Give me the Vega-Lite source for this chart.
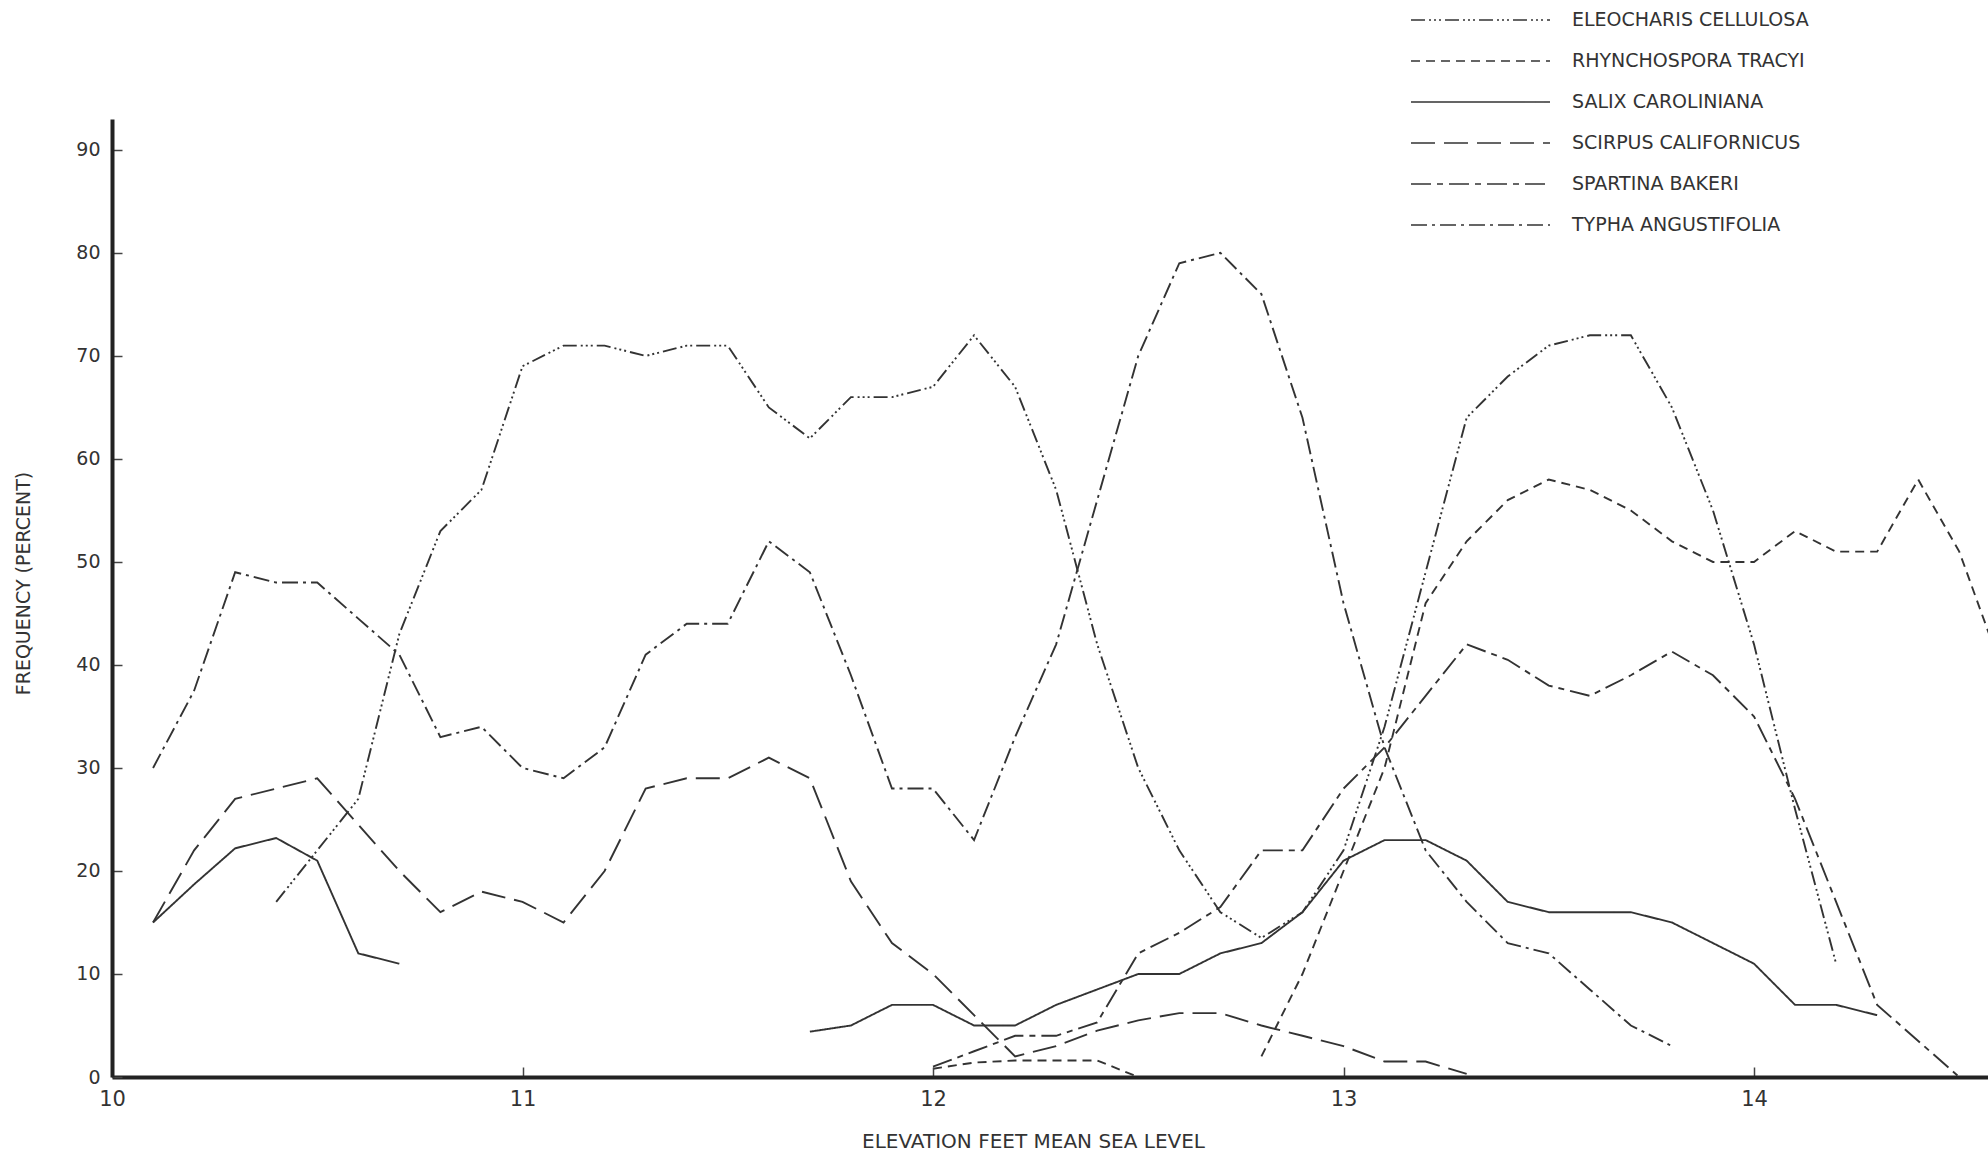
{
  "$schema": "https://vega.github.io/schema/vega-lite/v6.json",
  "width": 1876,
  "height": 958,
  "autosize": {"type": "none"},
  "padding": {"left": 112, "top": 119, "right": 0, "bottom": 80},
  "background": "white",
  "config": {"view": {"stroke": null}, "font": "DejaVu Sans"},
  "data": {"values": [
    {"species":"ELEOCHARIS CELLULOSA","part":"e","elev":10.4,"freq":17},
    {"species":"ELEOCHARIS CELLULOSA","part":"e","elev":10.5,"freq":22},
    {"species":"ELEOCHARIS CELLULOSA","part":"e","elev":10.6,"freq":27},
    {"species":"ELEOCHARIS CELLULOSA","part":"e","elev":10.7,"freq":43},
    {"species":"ELEOCHARIS CELLULOSA","part":"e","elev":10.8,"freq":53},
    {"species":"ELEOCHARIS CELLULOSA","part":"e","elev":10.9,"freq":57},
    {"species":"ELEOCHARIS CELLULOSA","part":"e","elev":11.0,"freq":69},
    {"species":"ELEOCHARIS CELLULOSA","part":"e","elev":11.1,"freq":71},
    {"species":"ELEOCHARIS CELLULOSA","part":"e","elev":11.2,"freq":71},
    {"species":"ELEOCHARIS CELLULOSA","part":"e","elev":11.3,"freq":70},
    {"species":"ELEOCHARIS CELLULOSA","part":"e","elev":11.4,"freq":71},
    {"species":"ELEOCHARIS CELLULOSA","part":"e","elev":11.5,"freq":71},
    {"species":"ELEOCHARIS CELLULOSA","part":"e","elev":11.6,"freq":65},
    {"species":"ELEOCHARIS CELLULOSA","part":"e","elev":11.7,"freq":62},
    {"species":"ELEOCHARIS CELLULOSA","part":"e","elev":11.8,"freq":66},
    {"species":"ELEOCHARIS CELLULOSA","part":"e","elev":11.9,"freq":66},
    {"species":"ELEOCHARIS CELLULOSA","part":"e","elev":12.0,"freq":67},
    {"species":"ELEOCHARIS CELLULOSA","part":"e","elev":12.1,"freq":72},
    {"species":"ELEOCHARIS CELLULOSA","part":"e","elev":12.2,"freq":67},
    {"species":"ELEOCHARIS CELLULOSA","part":"e","elev":12.3,"freq":57},
    {"species":"ELEOCHARIS CELLULOSA","part":"e","elev":12.4,"freq":42},
    {"species":"ELEOCHARIS CELLULOSA","part":"e","elev":12.5,"freq":30},
    {"species":"ELEOCHARIS CELLULOSA","part":"e","elev":12.6,"freq":22},
    {"species":"ELEOCHARIS CELLULOSA","part":"e","elev":12.7,"freq":16},
    {"species":"ELEOCHARIS CELLULOSA","part":"e","elev":12.8,"freq":13.5},
    {"species":"ELEOCHARIS CELLULOSA","part":"e","elev":12.9,"freq":16},
    {"species":"ELEOCHARIS CELLULOSA","part":"e","elev":13.0,"freq":22},
    {"species":"ELEOCHARIS CELLULOSA","part":"e","elev":13.1,"freq":34},
    {"species":"ELEOCHARIS CELLULOSA","part":"e","elev":13.2,"freq":49},
    {"species":"ELEOCHARIS CELLULOSA","part":"e","elev":13.3,"freq":64},
    {"species":"ELEOCHARIS CELLULOSA","part":"e","elev":13.4,"freq":68},
    {"species":"ELEOCHARIS CELLULOSA","part":"e","elev":13.5,"freq":71},
    {"species":"ELEOCHARIS CELLULOSA","part":"e","elev":13.6,"freq":72},
    {"species":"ELEOCHARIS CELLULOSA","part":"e","elev":13.7,"freq":72},
    {"species":"ELEOCHARIS CELLULOSA","part":"e","elev":13.8,"freq":65},
    {"species":"ELEOCHARIS CELLULOSA","part":"e","elev":13.9,"freq":55},
    {"species":"ELEOCHARIS CELLULOSA","part":"e","elev":14.0,"freq":42},
    {"species":"ELEOCHARIS CELLULOSA","part":"e","elev":14.1,"freq":26},
    {"species":"ELEOCHARIS CELLULOSA","part":"e","elev":14.2,"freq":11},

    {"species":"TYPHA ANGUSTIFOLIA","part":"t","elev":10.1,"freq":30},
    {"species":"TYPHA ANGUSTIFOLIA","part":"t","elev":10.2,"freq":37.5},
    {"species":"TYPHA ANGUSTIFOLIA","part":"t","elev":10.3,"freq":49},
    {"species":"TYPHA ANGUSTIFOLIA","part":"t","elev":10.4,"freq":48},
    {"species":"TYPHA ANGUSTIFOLIA","part":"t","elev":10.5,"freq":48},
    {"species":"TYPHA ANGUSTIFOLIA","part":"t","elev":10.6,"freq":44.5},
    {"species":"TYPHA ANGUSTIFOLIA","part":"t","elev":10.7,"freq":41},
    {"species":"TYPHA ANGUSTIFOLIA","part":"t","elev":10.8,"freq":33},
    {"species":"TYPHA ANGUSTIFOLIA","part":"t","elev":10.9,"freq":34},
    {"species":"TYPHA ANGUSTIFOLIA","part":"t","elev":11.0,"freq":30},
    {"species":"TYPHA ANGUSTIFOLIA","part":"t","elev":11.1,"freq":29},
    {"species":"TYPHA ANGUSTIFOLIA","part":"t","elev":11.2,"freq":32},
    {"species":"TYPHA ANGUSTIFOLIA","part":"t","elev":11.3,"freq":41},
    {"species":"TYPHA ANGUSTIFOLIA","part":"t","elev":11.4,"freq":44},
    {"species":"TYPHA ANGUSTIFOLIA","part":"t","elev":11.5,"freq":44},
    {"species":"TYPHA ANGUSTIFOLIA","part":"t","elev":11.6,"freq":52},
    {"species":"TYPHA ANGUSTIFOLIA","part":"t","elev":11.7,"freq":49},
    {"species":"TYPHA ANGUSTIFOLIA","part":"t","elev":11.8,"freq":39},
    {"species":"TYPHA ANGUSTIFOLIA","part":"t","elev":11.9,"freq":28},
    {"species":"TYPHA ANGUSTIFOLIA","part":"t","elev":12.0,"freq":28},
    {"species":"TYPHA ANGUSTIFOLIA","part":"t","elev":12.1,"freq":23},
    {"species":"TYPHA ANGUSTIFOLIA","part":"t","elev":12.2,"freq":33},
    {"species":"TYPHA ANGUSTIFOLIA","part":"t","elev":12.3,"freq":42},
    {"species":"TYPHA ANGUSTIFOLIA","part":"t","elev":12.4,"freq":56},
    {"species":"TYPHA ANGUSTIFOLIA","part":"t","elev":12.5,"freq":70},
    {"species":"TYPHA ANGUSTIFOLIA","part":"t","elev":12.6,"freq":79},
    {"species":"TYPHA ANGUSTIFOLIA","part":"t","elev":12.7,"freq":80},
    {"species":"TYPHA ANGUSTIFOLIA","part":"t","elev":12.8,"freq":76},
    {"species":"TYPHA ANGUSTIFOLIA","part":"t","elev":12.9,"freq":64},
    {"species":"TYPHA ANGUSTIFOLIA","part":"t","elev":13.0,"freq":46},
    {"species":"TYPHA ANGUSTIFOLIA","part":"t","elev":13.1,"freq":32},
    {"species":"TYPHA ANGUSTIFOLIA","part":"t","elev":13.2,"freq":22},
    {"species":"TYPHA ANGUSTIFOLIA","part":"t","elev":13.3,"freq":17},
    {"species":"TYPHA ANGUSTIFOLIA","part":"t","elev":13.4,"freq":13},
    {"species":"TYPHA ANGUSTIFOLIA","part":"t","elev":13.5,"freq":12},
    {"species":"TYPHA ANGUSTIFOLIA","part":"t","elev":13.6,"freq":8.5},
    {"species":"TYPHA ANGUSTIFOLIA","part":"t","elev":13.7,"freq":5},
    {"species":"TYPHA ANGUSTIFOLIA","part":"t","elev":13.8,"freq":3},

    {"species":"SALIX CAROLINIANA","part":"s1","elev":10.1,"freq":15},
    {"species":"SALIX CAROLINIANA","part":"s1","elev":10.2,"freq":18.7},
    {"species":"SALIX CAROLINIANA","part":"s1","elev":10.3,"freq":22.2},
    {"species":"SALIX CAROLINIANA","part":"s1","elev":10.4,"freq":23.2},
    {"species":"SALIX CAROLINIANA","part":"s1","elev":10.5,"freq":21},
    {"species":"SALIX CAROLINIANA","part":"s1","elev":10.6,"freq":12},
    {"species":"SALIX CAROLINIANA","part":"s1","elev":10.7,"freq":11},
    {"species":"SALIX CAROLINIANA","part":"s2","elev":11.7,"freq":4.4},
    {"species":"SALIX CAROLINIANA","part":"s2","elev":11.8,"freq":5},
    {"species":"SALIX CAROLINIANA","part":"s2","elev":11.9,"freq":7},
    {"species":"SALIX CAROLINIANA","part":"s2","elev":12.0,"freq":7},
    {"species":"SALIX CAROLINIANA","part":"s2","elev":12.1,"freq":5},
    {"species":"SALIX CAROLINIANA","part":"s2","elev":12.2,"freq":5},
    {"species":"SALIX CAROLINIANA","part":"s2","elev":12.3,"freq":7},
    {"species":"SALIX CAROLINIANA","part":"s2","elev":12.4,"freq":8.5},
    {"species":"SALIX CAROLINIANA","part":"s2","elev":12.5,"freq":10},
    {"species":"SALIX CAROLINIANA","part":"s2","elev":12.6,"freq":10},
    {"species":"SALIX CAROLINIANA","part":"s2","elev":12.7,"freq":12},
    {"species":"SALIX CAROLINIANA","part":"s2","elev":12.8,"freq":13},
    {"species":"SALIX CAROLINIANA","part":"s2","elev":12.9,"freq":16},
    {"species":"SALIX CAROLINIANA","part":"s2","elev":13.0,"freq":21},
    {"species":"SALIX CAROLINIANA","part":"s2","elev":13.1,"freq":23},
    {"species":"SALIX CAROLINIANA","part":"s2","elev":13.2,"freq":23},
    {"species":"SALIX CAROLINIANA","part":"s2","elev":13.3,"freq":21},
    {"species":"SALIX CAROLINIANA","part":"s2","elev":13.4,"freq":17},
    {"species":"SALIX CAROLINIANA","part":"s2","elev":13.5,"freq":16},
    {"species":"SALIX CAROLINIANA","part":"s2","elev":13.6,"freq":16},
    {"species":"SALIX CAROLINIANA","part":"s2","elev":13.7,"freq":16},
    {"species":"SALIX CAROLINIANA","part":"s2","elev":13.8,"freq":15},
    {"species":"SALIX CAROLINIANA","part":"s2","elev":13.9,"freq":13},
    {"species":"SALIX CAROLINIANA","part":"s2","elev":14.0,"freq":11},
    {"species":"SALIX CAROLINIANA","part":"s2","elev":14.1,"freq":7},
    {"species":"SALIX CAROLINIANA","part":"s2","elev":14.2,"freq":7},
    {"species":"SALIX CAROLINIANA","part":"s2","elev":14.3,"freq":6},

    {"species":"SCIRPUS CALIFORNICUS","part":"c","elev":10.1,"freq":15},
    {"species":"SCIRPUS CALIFORNICUS","part":"c","elev":10.2,"freq":22},
    {"species":"SCIRPUS CALIFORNICUS","part":"c","elev":10.3,"freq":27},
    {"species":"SCIRPUS CALIFORNICUS","part":"c","elev":10.4,"freq":28},
    {"species":"SCIRPUS CALIFORNICUS","part":"c","elev":10.5,"freq":29},
    {"species":"SCIRPUS CALIFORNICUS","part":"c","elev":10.6,"freq":24.5},
    {"species":"SCIRPUS CALIFORNICUS","part":"c","elev":10.7,"freq":20},
    {"species":"SCIRPUS CALIFORNICUS","part":"c","elev":10.8,"freq":16},
    {"species":"SCIRPUS CALIFORNICUS","part":"c","elev":10.9,"freq":18},
    {"species":"SCIRPUS CALIFORNICUS","part":"c","elev":11.0,"freq":17},
    {"species":"SCIRPUS CALIFORNICUS","part":"c","elev":11.1,"freq":15},
    {"species":"SCIRPUS CALIFORNICUS","part":"c","elev":11.2,"freq":20},
    {"species":"SCIRPUS CALIFORNICUS","part":"c","elev":11.3,"freq":28},
    {"species":"SCIRPUS CALIFORNICUS","part":"c","elev":11.4,"freq":29},
    {"species":"SCIRPUS CALIFORNICUS","part":"c","elev":11.5,"freq":29},
    {"species":"SCIRPUS CALIFORNICUS","part":"c","elev":11.6,"freq":31},
    {"species":"SCIRPUS CALIFORNICUS","part":"c","elev":11.7,"freq":29},
    {"species":"SCIRPUS CALIFORNICUS","part":"c","elev":11.8,"freq":19},
    {"species":"SCIRPUS CALIFORNICUS","part":"c","elev":11.9,"freq":13},
    {"species":"SCIRPUS CALIFORNICUS","part":"c","elev":12.0,"freq":10},
    {"species":"SCIRPUS CALIFORNICUS","part":"c","elev":12.1,"freq":6},
    {"species":"SCIRPUS CALIFORNICUS","part":"c","elev":12.2,"freq":2},
    {"species":"SCIRPUS CALIFORNICUS","part":"c","elev":12.3,"freq":3},
    {"species":"SCIRPUS CALIFORNICUS","part":"c","elev":12.4,"freq":4.5},
    {"species":"SCIRPUS CALIFORNICUS","part":"c","elev":12.5,"freq":5.5},
    {"species":"SCIRPUS CALIFORNICUS","part":"c","elev":12.6,"freq":6.2},
    {"species":"SCIRPUS CALIFORNICUS","part":"c","elev":12.7,"freq":6.2},
    {"species":"SCIRPUS CALIFORNICUS","part":"c","elev":12.8,"freq":5},
    {"species":"SCIRPUS CALIFORNICUS","part":"c","elev":12.9,"freq":4},
    {"species":"SCIRPUS CALIFORNICUS","part":"c","elev":13.0,"freq":3},
    {"species":"SCIRPUS CALIFORNICUS","part":"c","elev":13.1,"freq":1.5},
    {"species":"SCIRPUS CALIFORNICUS","part":"c","elev":13.2,"freq":1.5},
    {"species":"SCIRPUS CALIFORNICUS","part":"c","elev":13.3,"freq":0.3},

    {"species":"SPARTINA BAKERI","part":"p","elev":12.0,"freq":1},
    {"species":"SPARTINA BAKERI","part":"p","elev":12.1,"freq":2.5},
    {"species":"SPARTINA BAKERI","part":"p","elev":12.2,"freq":4},
    {"species":"SPARTINA BAKERI","part":"p","elev":12.3,"freq":4},
    {"species":"SPARTINA BAKERI","part":"p","elev":12.4,"freq":5.3},
    {"species":"SPARTINA BAKERI","part":"p","elev":12.5,"freq":12},
    {"species":"SPARTINA BAKERI","part":"p","elev":12.6,"freq":14},
    {"species":"SPARTINA BAKERI","part":"p","elev":12.7,"freq":16.5},
    {"species":"SPARTINA BAKERI","part":"p","elev":12.8,"freq":22},
    {"species":"SPARTINA BAKERI","part":"p","elev":12.9,"freq":22},
    {"species":"SPARTINA BAKERI","part":"p","elev":13.0,"freq":28},
    {"species":"SPARTINA BAKERI","part":"p","elev":13.1,"freq":32},
    {"species":"SPARTINA BAKERI","part":"p","elev":13.2,"freq":37},
    {"species":"SPARTINA BAKERI","part":"p","elev":13.3,"freq":42},
    {"species":"SPARTINA BAKERI","part":"p","elev":13.4,"freq":40.5},
    {"species":"SPARTINA BAKERI","part":"p","elev":13.5,"freq":38},
    {"species":"SPARTINA BAKERI","part":"p","elev":13.6,"freq":37},
    {"species":"SPARTINA BAKERI","part":"p","elev":13.7,"freq":39},
    {"species":"SPARTINA BAKERI","part":"p","elev":13.8,"freq":41.3},
    {"species":"SPARTINA BAKERI","part":"p","elev":13.9,"freq":39},
    {"species":"SPARTINA BAKERI","part":"p","elev":14.0,"freq":35},
    {"species":"SPARTINA BAKERI","part":"p","elev":14.1,"freq":27},
    {"species":"SPARTINA BAKERI","part":"p","elev":14.2,"freq":17},
    {"species":"SPARTINA BAKERI","part":"p","elev":14.3,"freq":7},
    {"species":"SPARTINA BAKERI","part":"p","elev":14.4,"freq":3.5},
    {"species":"SPARTINA BAKERI","part":"p","elev":14.5,"freq":0},

    {"species":"RHYNCHOSPORA TRACYI","part":"r1","elev":12.0,"freq":0.8},
    {"species":"RHYNCHOSPORA TRACYI","part":"r1","elev":12.1,"freq":1.4},
    {"species":"RHYNCHOSPORA TRACYI","part":"r1","elev":12.2,"freq":1.6},
    {"species":"RHYNCHOSPORA TRACYI","part":"r1","elev":12.3,"freq":1.6},
    {"species":"RHYNCHOSPORA TRACYI","part":"r1","elev":12.4,"freq":1.6},
    {"species":"RHYNCHOSPORA TRACYI","part":"r1","elev":12.5,"freq":0},
    {"species":"RHYNCHOSPORA TRACYI","part":"r2","elev":12.8,"freq":2},
    {"species":"RHYNCHOSPORA TRACYI","part":"r2","elev":12.9,"freq":10},
    {"species":"RHYNCHOSPORA TRACYI","part":"r2","elev":13.0,"freq":20},
    {"species":"RHYNCHOSPORA TRACYI","part":"r2","elev":13.1,"freq":30},
    {"species":"RHYNCHOSPORA TRACYI","part":"r2","elev":13.2,"freq":46},
    {"species":"RHYNCHOSPORA TRACYI","part":"r2","elev":13.3,"freq":52},
    {"species":"RHYNCHOSPORA TRACYI","part":"r2","elev":13.4,"freq":56},
    {"species":"RHYNCHOSPORA TRACYI","part":"r2","elev":13.5,"freq":58},
    {"species":"RHYNCHOSPORA TRACYI","part":"r2","elev":13.6,"freq":57},
    {"species":"RHYNCHOSPORA TRACYI","part":"r2","elev":13.7,"freq":55},
    {"species":"RHYNCHOSPORA TRACYI","part":"r2","elev":13.8,"freq":52},
    {"species":"RHYNCHOSPORA TRACYI","part":"r2","elev":13.9,"freq":50},
    {"species":"RHYNCHOSPORA TRACYI","part":"r2","elev":14.0,"freq":50},
    {"species":"RHYNCHOSPORA TRACYI","part":"r2","elev":14.1,"freq":53},
    {"species":"RHYNCHOSPORA TRACYI","part":"r2","elev":14.2,"freq":51},
    {"species":"RHYNCHOSPORA TRACYI","part":"r2","elev":14.3,"freq":51},
    {"species":"RHYNCHOSPORA TRACYI","part":"r2","elev":14.4,"freq":58},
    {"species":"RHYNCHOSPORA TRACYI","part":"r2","elev":14.5,"freq":51},
    {"species":"RHYNCHOSPORA TRACYI","part":"r2","elev":14.6,"freq":40}
  ]},
  "mark": {"type": "line", "clip": true, "strokeWidth": 1.9, "color": "#333333"},
  "encoding": {
    "x": {
      "field": "elev", "type": "quantitative",
      "scale": {"domain": [10, 14.57], "nice": false, "zero": false},
      "axis": {
        "values": [10, 11, 12, 13, 14], "format": "d", "grid": false,
        "title": "ELEVATION  FEET  MEAN  SEA  LEVEL",
        "domainWidth": 4, "domainColor": "#222222",
        "tickSize": -10, "tickWidth": 1.5, "tickColor": "#444444",
        "labelPadding": 21, "labelFontSize": 21, "labelColor": "#333333", "labelFlush": false,
        "titleFontSize": 20, "titleFontWeight": "normal", "titleColor": "#333333",
        "titleX": 921, "titleY": 64, "titleAlign": "center", "titleBaseline": "middle",
        "zindex": 1
      }
    },
    "y": {
      "field": "freq", "type": "quantitative",
      "scale": {"domain": [0, 93], "nice": false},
      "axis": {
        "values": [0, 10, 20, 30, 40, 50, 60, 70, 80, 90], "grid": false,
        "title": "FREQUENCY (PERCENT)",
        "domainWidth": 4, "domainColor": "#222222",
        "tickSize": -10, "tickWidth": 1.5, "tickColor": "#444444",
        "labelPadding": 22, "labelFontSize": 19, "labelColor": "#333333", "labelFlush": false,
        "titleFontSize": 19, "titleFontWeight": "normal", "titleColor": "#333333",
        "titleX": -89, "titleY": 464, "titleAngle": 270, "titleAlign": "center", "titleBaseline": "middle",
        "zindex": 1
      }
    },
    "detail": {"field": "part", "type": "nominal"},
    "strokeDash": {
      "field": "species", "type": "nominal",
      "scale": {
        "domain": ["ELEOCHARIS CELLULOSA", "RHYNCHOSPORA TRACYI", "SALIX CAROLINIANA", "SCIRPUS CALIFORNICUS", "SPARTINA BAKERI", "TYPHA ANGUSTIFOLIA"],
        "range": [[14, 4, 2, 3, 2, 3, 2, 4], [9, 6], [1, 0], [24, 9], [20, 6, 6, 6], [16, 5, 3, 5]]
      },
      "legend": {
        "orient": "none", "legendX": 1298, "legendY": -119.5, "title": null,
        "symbolType": "stroke", "symbolSize": 19321, "symbolStrokeWidth": 1.6,
        "symbolStrokeColor": "#333333", "clipHeight": 41, "rowPadding": 0,
        "labelOffset": 21, "labelFontSize": 19, "labelColor": "#333333", "labelLimit": 0,
        "padding": 0
      }
    }
  }
}
